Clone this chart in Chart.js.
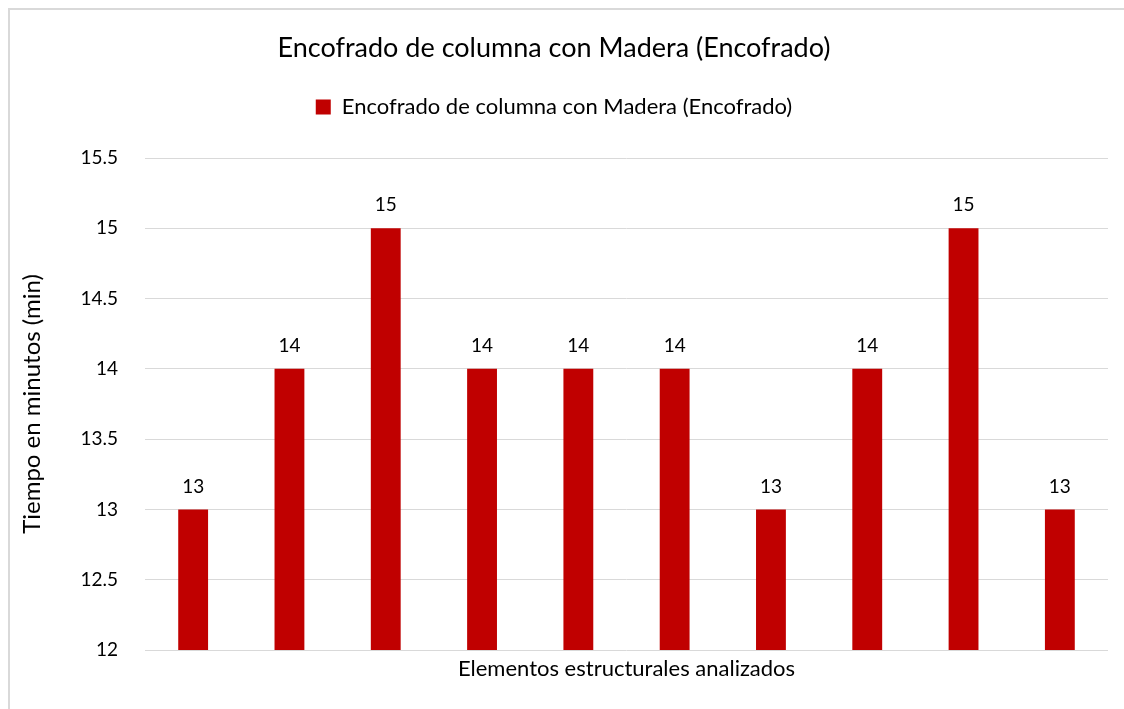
<!DOCTYPE html>
<html>
<head>
<meta charset="utf-8">
<script src="https://cdn.jsdelivr.net/npm/chart.js@4"></script>
<style>
  body { margin: 0; overflow: hidden; background: #fff; }
  #marco { position: absolute; left: 8px; top: 8px; width: 1130px; height: 720px; border: 2px solid #d9d9d9; }
  #grafico { position: absolute; left: 0; top: 0; }
</style>
</head>
<body>
<div id="marco"></div>
<canvas id="grafico" width="1124" height="709"></canvas>
<script>
// Datos del gráfico
const categorias = ['1', '2', '3', '4', '5', '6', '7', '8', '9', '10'];
const tiempos = [13, 14, 15, 14, 14, 14, 13, 14, 15, 13];
const etiquetasEjeY = ['12', '12.5', '13', '13.5', '14', '14.5', '15', '15.5'];

const titulo = 'Encofrado de columna con Madera (Encofrado)';
const fuente = 'Lato, "Open Sans", sans-serif';
const colorTexto = '#000000';

// Plugin para dibujar los valores encima de cada barra
const etiquetasValor = {
    id: 'etiquetasValor',
    afterDatasetsDraw(chart) {
        const ctx = chart.ctx;
        const meta = chart.getDatasetMeta(0);
        ctx.save();
        ctx.font = '19px ' + fuente;
        ctx.fillStyle = colorTexto;
        ctx.textAlign = 'center';
        ctx.textBaseline = 'middle';
        meta.data.forEach((bar, i) => {
            ctx.fillText(String(tiempos[i]), bar.x, bar.y - 23);
        });
        ctx.restore();
    }
};

new Chart(document.getElementById('grafico').getContext('2d'), {
    type: 'bar',
    data: {
        labels: categorias,
        datasets: [{
            label: titulo,
            data: tiempos,
            backgroundColor: '#C00000',
            borderWidth: 0,
            barPercentage: 0.31,
            categoryPercentage: 1
        }]
    },
    options: {
        responsive: false,
        animation: false,
        layout: { padding: { left: 0, right: 16, top: 0, bottom: 0 } },
        scales: {
            x: {
                grid: { display: false },
                border: { display: false },
                ticks: { display: false },
                title: {
                    display: true,
                    text: 'Elementos estructurales analizados',
                    color: colorTexto,
                    font: { family: fuente, size: 22 },
                    padding: { top: 0, bottom: 26.8 }
                },
                afterFit(scale) { scale.height = 59; }
            },
            y: {
                min: 12,
                max: 15.5,
                ticks: {
                    stepSize: 0.5,
                    padding: 27,
                    color: colorTexto,
                    font: { family: fuente, size: 19 },
                    callback: (v) => etiquetasEjeY.find(t => Number(t) === v) ?? ''
                },
                grid: { color: '#d9d9d9', lineWidth: 1, drawTicks: false },
                border: { display: false },
                title: {
                    display: true,
                    text: 'Tiempo en minutos (min)',
                    color: colorTexto,
                    font: { family: fuente, size: 24 },
                    padding: { top: 17.6, bottom: 0 }
                },
                afterFit(scale) { scale.width = 145; }
            }
        },
        plugins: {
            title: {
                display: true,
                text: titulo,
                color: colorTexto,
                font: { family: fuente, size: 27, weight: 'normal' },
                padding: { top: 31.8, bottom: 0 }
            },
            legend: {
                display: true,
                position: 'top',
                labels: {
                    color: colorTexto,
                    font: { family: fuente, size: 22 },
                    boxWidth: 15,
                    boxHeight: 15,
                    padding: 31.8
                }
            },
            // subtítulo vacío usado como separación entre la leyenda y el gráfico
            subtitle: {
                display: true,
                text: '',
                weight: 500,
                font: { size: 10 },
                padding: { top: 0, bottom: 18 }
            },
            tooltip: { enabled: false }
        }
    },
    plugins: [etiquetasValor]
});
</script>
</body>
</html>
